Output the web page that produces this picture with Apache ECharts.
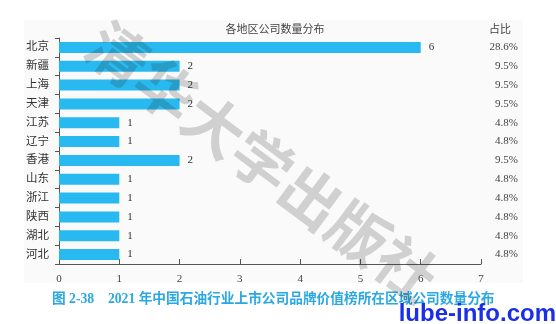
<!DOCTYPE html>
<html><head><meta charset="utf-8">
<script src="https://cdn.jsdelivr.net/npm/echarts@6/dist/echarts.min.js"></script>
<style>html,body{margin:0;padding:0;background:#fff}#c{width:556px;height:324px}</style>
</head><body><div id="c"></div>
<script>
const regions = ['北京','新疆','上海','天津','江苏','辽宁','香港','山东','浙江','陕西','湖北','河北'];
const counts = [6,2,2,2,1,1,2,1,1,1,1,1];
const shares = ['28.6%','9.5%','9.5%','9.5%','4.8%','4.8%','9.5%','4.8%','4.8%','4.8%','4.8%','4.8%'];
const xTicks = [0,1,2,3,4,5,6,7];
const FONT = '"Liberation Serif", "Noto Sans CJK SC", serif';
const chart = echarts.init(document.getElementById('c'));
chart.setOption({
  animation:false,
  backgroundColor:'#fff',
  graphic:[
    {type:'rect', z:-10, shape:{x:24,y:20,width:499,height:263}, style:{fill:'#fafafa'}},
    {type:'text', z:100, x:112, y:12, rotation:-0.64,
     style:{text:'清华大学出版社', font:'bold 60px "Noto Sans CJK SC"', fill:'rgba(40,40,40,0.2)', letterSpacing:6, verticalAlign:'top'}},
    {type:'text', left:52, top:293, style:{text:'图 2-38    2021 年中国石油行业上市公司品牌价值榜所在区域公司数量分布', font:'bold 13.7px "Liberation Serif","Noto Sans CJK SC"', fill:'#2aa8e2'}},
    {type:'text', right:0, top:302, style:{text:'lube-info.com', font:'bold 24px "Liberation Sans", Arial', fill:'#1b2ee8'}}
  ],
  title:[
    {text:'各地区公司数量分布', left:270, textAlign:'center', top:20, textStyle:{fontSize:11, fontWeight:'normal', color:'#444', fontFamily:FONT}},
    {text:'占比', right:40, top:20, textStyle:{fontSize:11, fontWeight:'normal', color:'#444', fontFamily:FONT}}
  ],
  grid:{left:59, right:75, top:38, bottom:60, containLabel:false},
  xAxis:{type:'value', min:0, max:7, interval:1,
    axisLine:{show:true, lineStyle:{color:'#555', width:1}},
    axisTick:{show:true, inside:true, length:5, lineStyle:{color:'#555'}},
    axisLabel:{margin:10, color:'#444', fontSize:11, fontFamily:FONT, formatter:v=>xTicks.includes(v)?String(v):''},
    splitLine:{show:false}},
  yAxis:[
    {type:'category', data:regions, inverse:true,
     axisLine:{show:true, lineStyle:{color:'#555'}},
     axisTick:{show:true, length:4, alignWithLabel:false, lineStyle:{color:'#555'}},
     axisLabel:{margin:10, color:'#333', fontSize:11.5, fontFamily:FONT}},
    {type:'category', data:shares, inverse:true, position:'right',
     axisLine:{show:false}, axisTick:{show:false},
     axisLabel:{margin:37, align:'right', color:'#444', fontSize:11, fontFamily:FONT}}
  ],
  series:[{type:'bar', data:counts, barWidth:11, itemStyle:{color:'#27b9ef'},
    label:{show:true, position:'right', distance:8, color:'#333', fontSize:11, fontFamily:FONT}}]
});
</script></body></html>
